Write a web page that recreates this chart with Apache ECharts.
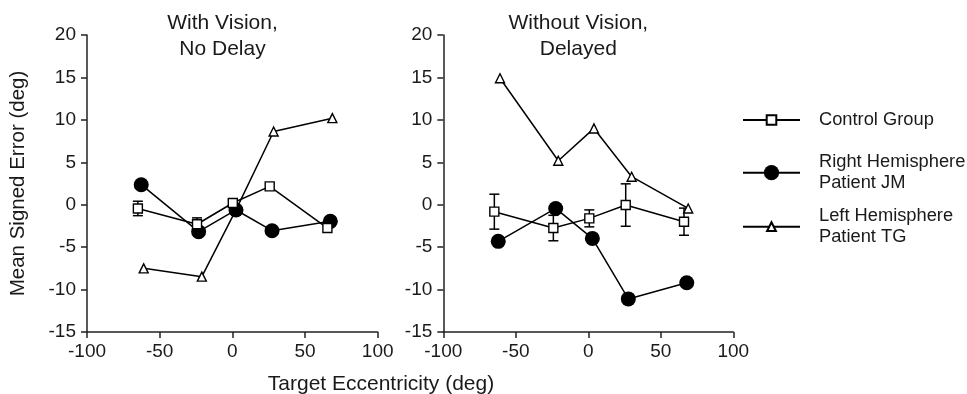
<!DOCTYPE html>
<html>
<head>
<meta charset="utf-8">
<script src="https://cdn.jsdelivr.net/npm/echarts@6/dist/echarts.min.js"></script>
<style>
html,body{margin:0;padding:0;background:#fff;}
#chart{width:967px;height:394px;}
</style>
</head>
<body>
<div id="chart"></div>
<script>
// ---- data ----
const panelTitles = ['With Vision,\nNo Delay', 'Without Vision,\nDelayed'];
const seriesNames = ['Control Group', 'Right Hemisphere\nPatient JM', 'Left Hemisphere\nPatient TG'];
const xTicks = [-100, -50, 0, 50, 100];
const yTicks = [-15, -10, -5, 0, 5, 10, 15, 20];

// Panel 1: With Vision, No Delay
const p1ControlX = [-65, -24.3, 0.3, 25.7, 65.4];
const p1ControlY = [-0.44, -2.3, 0.2, 2.16, -2.75];
const p1ControlErr = [0.85, 0.75, 0, 0, 0];
const p1JMX = [-62.7, -23.2, 2.5, 27.3, 67.4];
const p1JMY = [2.36, -3.18, -0.62, -3.06, -1.96];
const p1TGX = [-61, -21, 2.5, 28.4, 68.8];
const p1TGY = [-7.5, -8.48, -0.6, 8.63, 10.2];

// Panel 2: Without Vision, Delayed
const p2ControlX = [-64.8, -24.1, 0.7, 25.8, 66];
const p2ControlY = [-0.82, -2.75, -1.61, -0.04, -2.0];
const p2ControlErr = [2.06, 1.5, 1.0, 2.5, 1.6];
const p2JMX = [-62.1, -22.5, 2.8, 27.6, 67.9];
const p2JMY = [-4.32, -0.44, -3.97, -11.1, -9.2];
const p2TGX = [-60.9, -20.7, 3.9, 29.9, 68.9];
const p2TGY = [14.9, 5.18, 8.99, 3.3, -0.44];

// ---- build ----
const FONT = "'Liberation Sans', Arial, Helvetica, sans-serif";
const TXT = '#1a1a1a';
function pairs(xs, ys) { return xs.map((x, i) => [x, ys[i]]); }
function triples(xs, ys, es) { return xs.map((x, i) => [x, ys[i], es[i]]); }

const panels = [
  {cx: p1ControlX, cy: p1ControlY, ce: p1ControlErr, jx: p1JMX, jy: p1JMY, tx: p1TGX, ty: p1TGY},
  {cx: p2ControlX, cy: p2ControlY, ce: p2ControlErr, jx: p2JMX, jy: p2JMY, tx: p2TGX, ty: p2TGY}
];

const grids = [
  {left: 87, top: 35, width: 290.7, height: 297},
  {left: 443.3, top: 35, width: 290, height: 297}
];

function makeX(i) {
  return {
    type: 'value', gridIndex: i, min: xTicks[0], max: xTicks[xTicks.length - 1], interval: 50,
    splitLine: {show: false},
    axisLine: {onZero: false, lineStyle: {color: '#222', width: 1.5}},
    axisTick: {show: true, length: 6, lineStyle: {color: '#222', width: 1.5}},
    axisLabel: {color: TXT, fontSize: 19, fontFamily: FONT, margin: 10}
  };
}
function makeY(i) {
  const y = {
    type: 'value', gridIndex: i, min: yTicks[0], max: yTicks[yTicks.length - 1], interval: 5,
    splitLine: {show: false},
    axisLine: {show: true, onZero: false, lineStyle: {color: '#222', width: 1.5}},
    axisTick: {show: true, length: 6, lineStyle: {color: '#222', width: 1.5}},
    axisLabel: {color: TXT, fontSize: 19, fontFamily: FONT, margin: 11}
  };
  if (i === 0) {
    y.name = 'Mean Signed Error (deg)';
    y.nameLocation = 'middle';
    y.nameGap = 58;
    y.nameTextStyle = {color: TXT, fontSize: 20.5, fontFamily: FONT};
  }
  return y;
}

const series = [];
panels.forEach((p, i) => {
  series.push({
    type: 'custom', xAxisIndex: i, yAxisIndex: i, z: 1, silent: true,
    data: triples(p.cx, p.cy, p.ce),
    encode: {x: 0, y: 1},
    renderItem: function (params, api) {
      const x = api.value(0), y = api.value(1), e = api.value(2);
      if (!e) return {type: 'group', children: []};
      const top = api.coord([x, y + e]);
      const bot = api.coord([x, y - e]);
      const hw = 5;
      const st = {stroke: '#000', lineWidth: 1.5};
      return {type: 'group', children: [
        {type: 'line', shape: {x1: top[0], y1: top[1], x2: bot[0], y2: bot[1]}, style: st},
        {type: 'line', shape: {x1: top[0] - hw, y1: top[1], x2: top[0] + hw, y2: top[1]}, style: st},
        {type: 'line', shape: {x1: bot[0] - hw, y1: bot[1], x2: bot[0] + hw, y2: bot[1]}, style: st}
      ]};
    }
  });
  series.push({
    name: seriesNames[2], type: 'line', xAxisIndex: i, yAxisIndex: i, z: 2,
    data: pairs(p.tx, p.ty), symbol: 'triangle', symbolSize: 9,
    lineStyle: {color: '#000', width: 1.5},
    itemStyle: {color: '#fff', borderColor: '#000', borderWidth: 1.4},
    animation: false
  });
  series.push({
    name: seriesNames[1], type: 'line', xAxisIndex: i, yAxisIndex: i, z: 3,
    data: pairs(p.jx, p.jy), symbol: 'circle', symbolSize: 15,
    lineStyle: {color: '#000', width: 1.5},
    itemStyle: {color: '#000', borderColor: '#000', borderWidth: 0},
    animation: false
  });
  series.push({
    name: seriesNames[0], type: 'line', xAxisIndex: i, yAxisIndex: i, z: 4,
    data: pairs(p.cx, p.cy), symbol: 'rect', symbolSize: 9,
    lineStyle: {color: '#000', width: 1.5},
    itemStyle: {color: '#fff', borderColor: '#000', borderWidth: 1.4},
    animation: false
  });
});

function legendFor(name, top, itemHeight, twoLine) {
  return {
    data: [name], orient: 'vertical', left: 742, top: top, padding: 0,
    itemWidth: 57, itemHeight: itemHeight, selectedMode: false,
    textStyle: {color: TXT, fontSize: 18.3, fontFamily: FONT, lineHeight: 21,
      padding: twoLine ? [21, 0, 0, 14] : [0, 0, 0, 14]}
  };
}

const option = {
  animation: false,
  backgroundColor: '#fff',
  title: [
    {text: panelTitles[0], left: 222.5, top: 10, padding: 0, textAlign: 'center',
     textStyle: {color: TXT, fontSize: 21, fontWeight: 'normal', fontFamily: FONT, lineHeight: 26}},
    {text: panelTitles[1], left: 578.3, top: 10, padding: 0, textAlign: 'center',
     textStyle: {color: TXT, fontSize: 21, fontWeight: 'normal', fontFamily: FONT, lineHeight: 26}},
    {text: 'Target Eccentricity (deg)', left: 381, top: 372, padding: 0, textAlign: 'center',
     textStyle: {color: TXT, fontSize: 21, fontWeight: 'normal', fontFamily: FONT, lineHeight: 24}}
  ],
  legend: [
    legendFor(seriesNames[0], 109.5, 12, false),
    legendFor(seriesNames[1], 141.2, 19, true),
    legendFor(seriesNames[2], 195.2, 11, true)
  ],
  grid: grids,
  xAxis: [makeX(0), makeX(1)],
  yAxis: [makeY(0), makeY(1)],
  series: series
};

const chart = echarts.init(document.getElementById('chart'), null, {renderer: 'canvas'});
chart.setOption(option);
</script>
</body>
</html>
